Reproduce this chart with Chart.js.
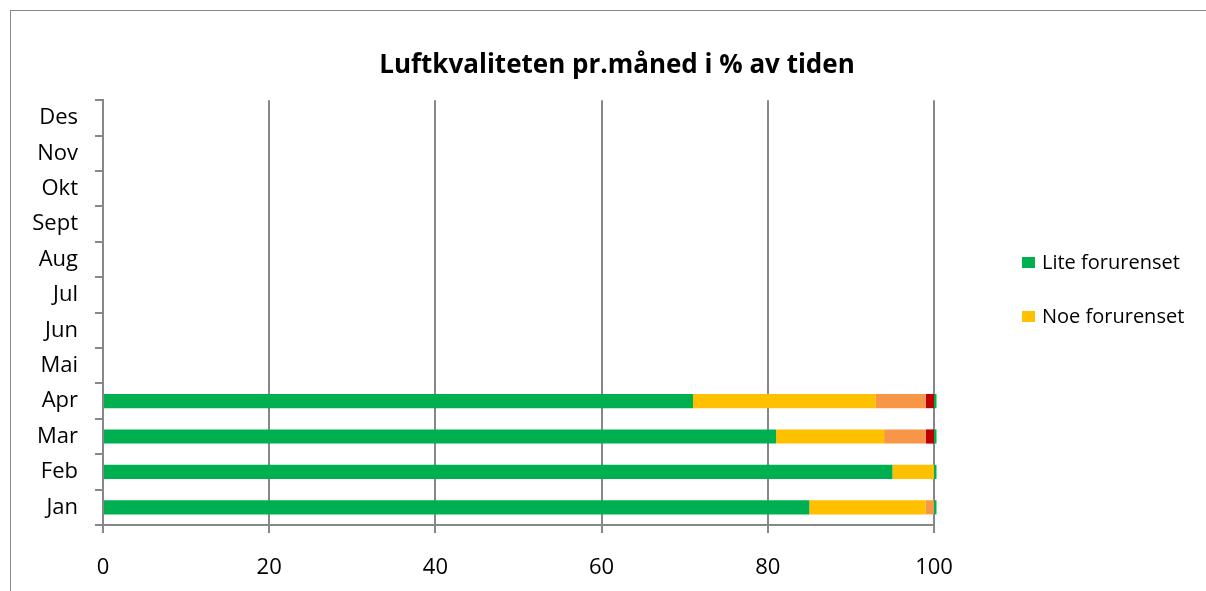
<!DOCTYPE html>
<html>
<head>
<meta charset="utf-8">
<script src="https://cdn.jsdelivr.net/npm/chart.js@4/dist/chart.umd.min.js"></script>
<style>
  html, body { margin: 0; padding: 0; background: #fff; }
  #wrap { position: relative; width: 1206px; height: 591px; overflow: hidden; font-family: "Open Sans", sans-serif; }
  #frame { position: absolute; left: 10px; top: 10px; width: 1300px; height: 700px; border-left: 1px solid #888; border-top: 1px solid #888; }
  #chart { position: absolute; left: 0; top: 0; }
  .leg { position: absolute; left: 1022px; font-size: 20px; color: #000; white-space: nowrap; line-height: 24px; }
  .leg i { display: inline-block; width: 13px; height: 11px; margin-right: 7px; vertical-align: 1px; }
</style>
</head>
<body>
<div id="wrap">
  <div id="frame"></div>
  <canvas id="chart" width="1206" height="591"></canvas>
</div>
<script>
// months, bottom to top
const months = ['Jan', 'Feb', 'Mar', 'Apr', 'Mai', 'Jun', 'Jul', 'Aug', 'Sept', 'Okt', 'Nov', 'Des'];

// % av tiden per klasse
const liteForurenset   = [85, 95, 81, 71, null, null, null, null, null, null, null, null];
const noeForurenset    = [14, 5, 13, 22, null, null, null, null, null, null, null, null];
const forurenset       = [1, 0, 5, 6, null, null, null, null, null, null, null, null];
const sterktForurenset = [0, 0, 1, 1, null, null, null, null, null, null, null, null];
const rest             = [0.3, 0.3, 0.3, 0.3, null, null, null, null, null, null, null, null];

const xTicks = [0, 20, 40, 60, 80, 100];

const FONT = '"Open Sans", sans-serif';
const GRID = '#878787';

function ds(label, data, color) {
  return {
    label: label,
    data: data,
    backgroundColor: color,
    borderWidth: 0,
    categoryPercentage: 1,
    barPercentage: 0.4,
    clip: false
  };
}

const chart = new Chart(document.getElementById('chart'), {
  type: 'bar',
  data: {
    labels: months,
    datasets: [
      ds('Lite forurenset', liteForurenset, '#00B050'),
      ds('Noe forurenset', noeForurenset, '#FFC000'),
      ds('Forurenset', forurenset, '#F79646'),
      ds('Sterkt forurenset', sterktForurenset, '#C00000'),
      ds('Ukjent', rest, '#00B050')
    ]
  },
  options: {
    indexAxis: 'y',
    responsive: false,
    animation: false,
    layout: { padding: { left: 28, top: 50, right: 0, bottom: 0 } },
    plugins: {
      title: {
        display: true,
        text: 'Luftkvaliteten pr.måned i % av tiden',
        color: '#000',
        font: { family: FONT, size: 26, weight: 'bold' },
        padding: { top: 0, bottom: 19 }
      },
      legend: { display: false },
      tooltip: { enabled: false }
    },
    scales: {
      x: {
        stacked: true,
        min: 0,
        max: 100,
        afterBuildTicks: s => { s.ticks = xTicks.map(v => ({ value: v })); },
        ticks: { color: '#000', font: { family: FONT, size: 22 }, padding: 22 },
        grid: { color: GRID, lineWidth: 2, tickLength: 8, tickColor: GRID },
        border: { color: GRID, width: 2 },
        afterFit: s => { s.height = 66; }
      },
      y: {
        stacked: true,
        reverse: true,
        ticks: { color: '#000', font: { family: FONT, size: 22 }, padding: 17 },
        grid: { drawOnChartArea: false, tickLength: 8, color: GRID, lineWidth: 2 },
        border: { color: GRID, width: 2 },
        afterFit: s => { s.width = 75; }
      },
      // empty right-hand axis that keeps room for the legend
      legendRoom: {
        type: 'linear',
        position: 'right',
        ticks: { display: false },
        grid: { display: false },
        border: { display: false },
        afterFit: s => { s.width = 272; }
      }
    }
  }
});

// legend (first two classes only), placed like the original
const legendTops = [250, 304];
chart.data.datasets.slice(0, 2).forEach((d, i) => {
  const el = document.createElement('div');
  el.className = 'leg';
  el.style.top = legendTops[i] + 'px';
  const sw = document.createElement('i');
  sw.style.background = d.backgroundColor;
  el.appendChild(sw);
  el.appendChild(document.createTextNode(d.label));
  document.getElementById('wrap').appendChild(el);
});
</script>
</body>
</html>
